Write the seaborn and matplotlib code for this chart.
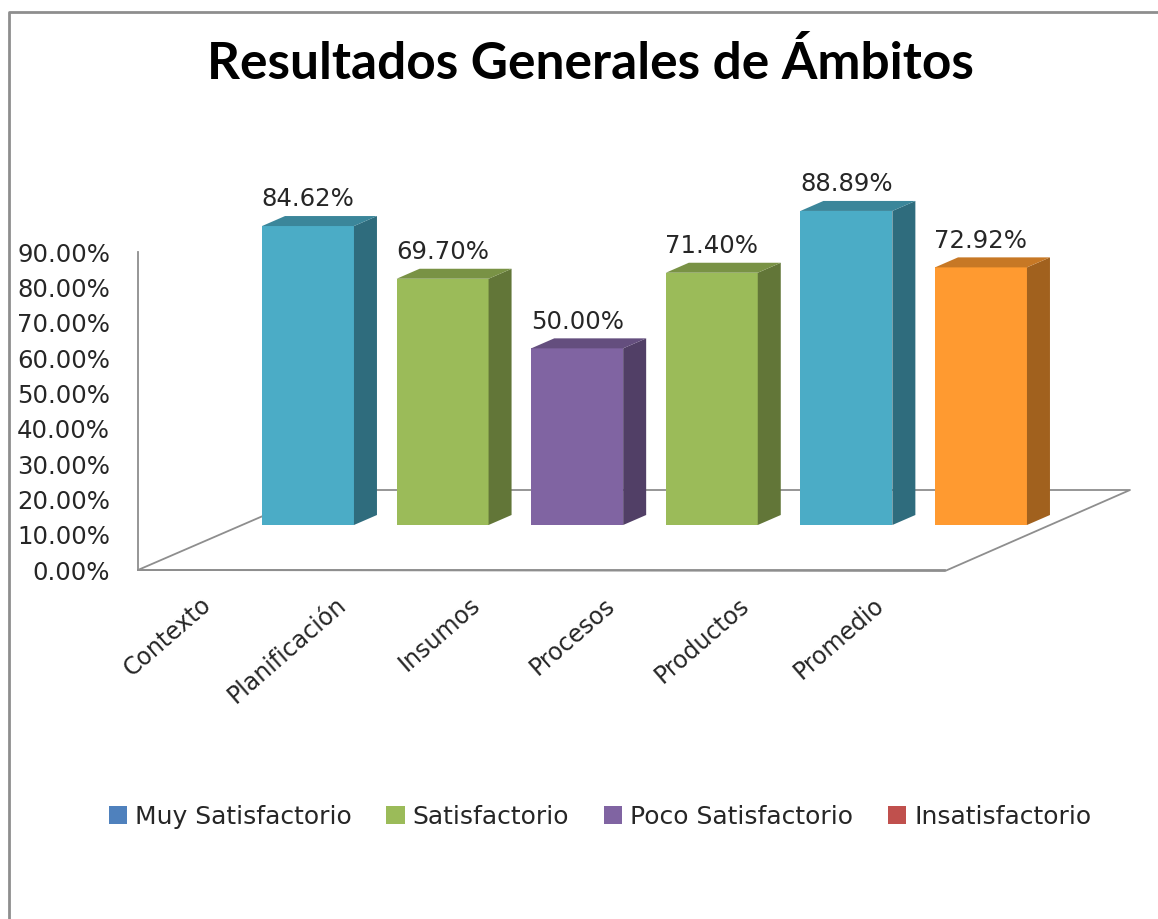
import matplotlib
matplotlib.use("Agg")
import matplotlib.pyplot as plt
import matplotlib.transforms as mtransforms
from matplotlib.lines import Line2D
from matplotlib.patches import Patch, Polygon
import pandas as pd
import seaborn as sns

# values
ambitos = ["Contexto", "Planificación", "Insumos", "Procesos", "Productos", "Promedio"]
resultados = [84.62, 69.70, 50.00, 71.40, 88.89, 72.92]
bar_colors = ["#4BACC6", "#9BBB59", "#8064A2", "#9BBB59", "#4BACC6", "#FF9A30"]
axis_ticks = [0, 10, 20, 30, 40, 50, 60, 70, 80, 90]
legend_labels = ["Muy Satisfactorio", "Satisfactorio", "Poco Satisfactorio", "Insatisfactorio"]
legend_colors = ["#4F81BD", "#9BBB59", "#8064A2", "#C0504D"]

W, H = 1158, 919
GRAY = "#8E8E8E"
TEXT = "#262626"
DEPTH_X = 23 / 134.6  # fake 3d depth, in category units
DEPTH_Y = 10 / 3.533  # and in percent units

sns.set_theme(style="white")
plt.rcParams["font.family"] = ["DejaVu Sans"]


def px_rect(left, top, right, bottom):
    """Axes rectangle from picture pixels (y going down)."""
    return [left / W, 1 - bottom / H, (right - left) / W, (bottom - top) / H]


def px_line(xs, ys, **kw):
    fig.add_artist(Line2D([x / W for x in xs], [1 - y / H for y in ys],
                          color=GRAY, zorder=0, **kw))


fig = plt.figure(figsize=(W / 100, H / 100), dpi=100, facecolor="white")

# chart frame, open on the right and at the bottom
px_line([8.5, 8.5, W], [H, 11.5, 11.5], lw=2.0)

# floor of the 3d box
px_line([138, 323, 1130, 945, 138], [570, 490, 490, 571, 570], lw=1.3)

# axis with the tick labels
ax_axis = fig.add_axes(px_rect(138, 252, 945, 570), facecolor="none", zorder=1)
ax_axis.set_ylim(axis_ticks[0], axis_ticks[-1])
ax_axis.set_xticks([])
ax_axis.set_yticks(axis_ticks)
ax_axis.set_yticklabels([f"{t:.2f}%" for t in axis_ticks], fontsize=17.6, color=TEXT)
ax_axis.tick_params(axis="y", length=0, pad=20)
for side in ["top", "right"]:
    ax_axis.spines[side].set_visible(False)
for side in ["left", "bottom"]:
    ax_axis.spines[side].set_color(GRAY)
    ax_axis.spines[side].set_linewidth(1.3)

# bars stand further back on the floor, so they get their own axes
ax = fig.add_axes(px_rect(240.7, 171.7, 1048.3, 525), facecolor="none", zorder=2)
df = pd.DataFrame({"ambito": ambitos, "resultado": resultados})
sns.barplot(data=df, x="ambito", y="resultado", hue="ambito", palette=bar_colors,
            width=0.683, legend=False, saturation=1, linewidth=0, ax=ax)
ax.set_xlim(-0.5, 5.5)
ax.set_ylim(0, 100)
ax.set_xlabel("")
ax.set_ylabel("")
ax.set_yticks([])
sns.despine(ax=ax, left=True, bottom=True)

for bar, value in zip(ax.patches, resultados):
    x0 = bar.get_x()
    x1 = x0 + bar.get_width()
    h = bar.get_height()
    base = bar.get_facecolor()
    dark = tuple(c * 0.63 for c in base[:3])
    mid = tuple(c * 0.78 for c in base[:3])
    ax.add_patch(Polygon([(x1, 0), (x1 + DEPTH_X, DEPTH_Y), (x1 + DEPTH_X, h + DEPTH_Y), (x1, h)],
                         facecolor=dark, edgecolor="none", clip_on=False))
    ax.add_patch(Polygon([(x0, h), (x0 + DEPTH_X, h + DEPTH_Y), (x1 + DEPTH_X, h + DEPTH_Y), (x1, h)],
                         facecolor=mid, edgecolor="none", clip_on=False))
    ax.annotate(f"{value:.2f}%", (x0 + bar.get_width() / 2, h), xytext=(0, 10.5),
                textcoords="offset points", ha="center", va="bottom",
                fontsize=17.6, color=TEXT, annotation_clip=False)

# category labels, slanted and pulled to the left of each bar
ax.tick_params(axis="x", length=0)
ax.set_xticks(range(len(ambitos)))
ax.set_xticklabels(ambitos, rotation=41, ha="right", va="top", rotation_mode="anchor",
                   fontsize=17, color=TEXT)
shift = mtransforms.ScaledTranslation(-108 / 100, -63 / 100, fig.dpi_scale_trans)
for label in ax.get_xticklabels():
    label.set_transform(label.get_transform() + shift)

handles = [Patch(facecolor=c, edgecolor="none") for c in legend_colors]
fig.legend(handles, legend_labels, loc="center", bbox_to_anchor=(600 / W, 1 - 817 / H),
           ncols=4, frameon=False, fontsize=18, labelcolor=TEXT, handlelength=0.73,
           handleheight=0.73, handletextpad=0.33, columnspacing=1.38)

fig.text(590 / W, 1 - 64 / H, "Resultados Generales de Ámbitos",
         ha="center", va="center", fontsize=37, fontweight="bold",
         family="Lato", color="black")

fig.savefig("out.png", dpi=100)
